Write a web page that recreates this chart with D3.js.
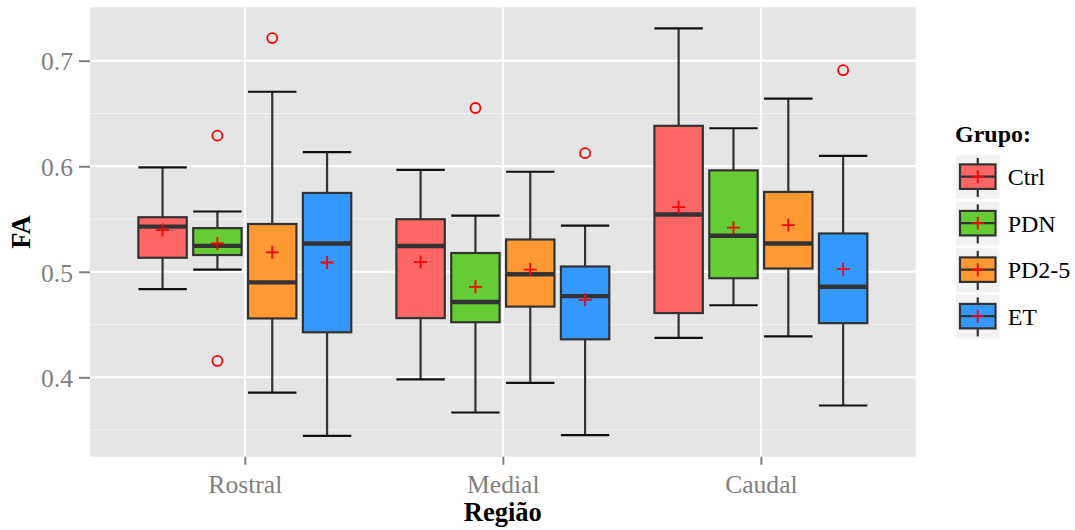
<!DOCTYPE html>
<html>
<head>
<meta charset="utf-8">
<script src="https://cdn.jsdelivr.net/npm/d3@7"></script>
<style>
  html, body { margin: 0; padding: 0; background: #fff; }
  text { font-family: "Liberation Serif", "Times New Roman", serif; }
</style>
</head>
<body>
<svg id="chart" width="1075" height="530"></svg>
<script>
// ---- data ----
const regions = ["Rostral", "Medial", "Caudal"];
const groups = ["Ctrl", "PDN", "PD2-5", "ET"];
const groupColors = ["#FF6666", "#66CC33", "#FF9933", "#3399FF"];
const yTicks = [0.4, 0.5, 0.6, 0.7];
const yMinorTicks = [0.35, 0.45, 0.55, 0.65];

// rows = regions, columns = groups
const whiskerLow = [
  [0.4836, 0.5021, 0.3855, 0.3446],
  [0.3980, 0.3667, 0.3947, 0.3452],
  [0.4373, 0.4683, 0.4389, 0.3733]
];
const q1 = [
  [0.5133, 0.5159, 0.4558, 0.4427],
  [0.4561, 0.4522, 0.4670, 0.4360],
  [0.4609, 0.4939, 0.5031, 0.4513]
];
const median = [
  [0.5428, 0.5246, 0.4900, 0.5268],
  [0.5245, 0.4714, 0.4977, 0.4769],
  [0.5543, 0.5341, 0.5268, 0.4858]
];
const q3 = [
  [0.5517, 0.5414, 0.5453, 0.5747],
  [0.5498, 0.5178, 0.5306, 0.5050],
  [0.6383, 0.5961, 0.5757, 0.5363]
];
const whiskerHigh = [
  [0.5990, 0.5571, 0.6706, 0.6133],
  [0.5965, 0.5533, 0.5948, 0.5437],
  [0.7307, 0.6360, 0.6641, 0.6099]
];
const means = [
  [0.5395, 0.5268, 0.5184, 0.5088],
  [0.5092, 0.4858, 0.5021, 0.4734],
  [0.5613, 0.5418, 0.5443, 0.5025]
];
const outliers = [
  [[], [0.6290, 0.4155], [0.7214], []],
  [[], [0.6552], [], [0.6124]],
  [[], [], [], [0.6910]]
];

// ---- layout ----
const svg = d3.select("#chart");
const panel = { left: 90, right: 915.7, top: 7.3, bottom: 456.7 };

const x = d3.scalePoint().domain(regions).range([panel.left, panel.right]).padding(0.6);
const step = x.step();
const dodge = 0.85 * step;
const gx = d3.scaleBand().domain(groups).range([-dodge / 2, dodge / 2])
  .paddingInner(0.1176).paddingOuter(0.0588);
const boxW = gx.bandwidth();

const y = d3.scaleLinear().domain([0.3248, 0.7506]).range([panel.bottom, panel.top]);

// build record table
const records = [];
regions.forEach((r, i) => groups.forEach((g, j) => {
  records.push({
    region: r, group: g, color: groupColors[j],
    lo: whiskerLow[i][j], q1: q1[i][j], med: median[i][j], q3: q3[i][j],
    hi: whiskerHigh[i][j], mean: means[i][j], out: outliers[i][j]
  });
}));

// panel background
svg.append("rect")
  .attr("x", panel.left).attr("y", panel.top)
  .attr("width", panel.right - panel.left).attr("height", panel.bottom - panel.top)
  .attr("fill", "#E5E5E5");

// minor grid
svg.append("g").selectAll("line").data(yMinorTicks).join("line")
  .attr("x1", panel.left).attr("x2", panel.right)
  .attr("y1", d => y(d)).attr("y2", d => y(d))
  .attr("stroke", "#F2F2F2").attr("stroke-width", 1);
// major grid
svg.append("g").selectAll("line").data(yTicks).join("line")
  .attr("x1", panel.left).attr("x2", panel.right)
  .attr("y1", d => y(d)).attr("y2", d => y(d))
  .attr("stroke", "#FFFFFF").attr("stroke-width", 2);
svg.append("g").selectAll("line").data(regions).join("line")
  .attr("x1", d => x(d)).attr("x2", d => x(d))
  .attr("y1", panel.top).attr("y2", panel.bottom)
  .attr("stroke", "#FFFFFF").attr("stroke-width", 2);

// axes
const yAxis = d3.axisLeft(y).tickValues(yTicks).tickSize(11).tickPadding(6).tickFormat(d3.format(".1f"));
const gy = svg.append("g").attr("transform", `translate(${panel.left},0)`).call(yAxis);
gy.select(".domain").remove();
gy.selectAll(".tick line").attr("stroke", "#7F7F7F").attr("stroke-width", 2);
gy.selectAll(".tick text").attr("fill", "#7F7F7F").attr("font-size", "25.6px")
  .attr("font-family", "Liberation Serif").attr("dy", "0.36em");

const xAxis = d3.axisBottom(x).tickSize(8).tickPadding(10);
const gxA = svg.append("g").attr("transform", `translate(0,${panel.bottom})`).call(xAxis);
gxA.select(".domain").remove();
gxA.selectAll(".tick line").attr("stroke", "#7F7F7F").attr("stroke-width", 2);
gxA.selectAll(".tick text").attr("fill", "#7F7F7F").attr("font-size", "25.6px")
  .attr("font-family", "Liberation Serif").attr("dy", "0.71em");

// axis titles
svg.append("text").attr("x", (panel.left + panel.right) / 2).attr("y", 521)
  .attr("text-anchor", "middle").attr("font-weight", "bold").attr("font-size", "26.5px")
  .text("Região");
svg.append("text").attr("transform", `translate(30,${(panel.top + panel.bottom) / 2}) rotate(-90)`)
  .attr("text-anchor", "middle").attr("font-weight", "bold").attr("font-size", "26.5px")
  .text("FA");

// boxes
const bx = d => x(d.region) + gx(d.group);
const cx = d => bx(d) + boxW / 2;
const boxes = svg.append("g").selectAll("g").data(records).join("g");

boxes.append("line") // whisker
  .attr("x1", cx).attr("x2", cx)
  .attr("y1", d => y(d.lo)).attr("y2", d => y(d.hi))
  .attr("stroke", "#333333").attr("stroke-width", 2.2);
boxes.append("line").attr("x1", bx).attr("x2", d => bx(d) + boxW)
  .attr("y1", d => y(d.hi)).attr("y2", d => y(d.hi))
  .attr("stroke", "#111111").attr("stroke-width", 2.2);
boxes.append("line").attr("x1", bx).attr("x2", d => bx(d) + boxW)
  .attr("y1", d => y(d.lo)).attr("y2", d => y(d.lo))
  .attr("stroke", "#111111").attr("stroke-width", 2.2);
boxes.append("rect")
  .attr("x", bx).attr("width", boxW)
  .attr("y", d => y(d.q3)).attr("height", d => y(d.q1) - y(d.q3))
  .attr("fill", d => d.color).attr("stroke", "#333333").attr("stroke-width", 2.2);
boxes.append("line").attr("x1", bx).attr("x2", d => bx(d) + boxW)
  .attr("y1", d => y(d.med)).attr("y2", d => y(d.med))
  .attr("stroke", "#333333").attr("stroke-width", 4.4);

// means
const arm = 6.5;
boxes.append("path")
  .attr("d", d => `M${cx(d) - arm},${y(d.mean)}H${cx(d) + arm}M${cx(d)},${y(d.mean) - arm}V${y(d.mean) + arm}`)
  .attr("stroke", "#FF0000").attr("stroke-width", 1.8).attr("fill", "none");

// outliers
boxes.each(function (d) {
  d3.select(this).selectAll("circle").data(d.out).join("circle")
    .attr("cx", cx(d)).attr("cy", v => y(v)).attr("r", 5)
    .attr("fill", "none").attr("stroke", "#FF0000").attr("stroke-width", 1.8);
});

// legend
const leg = svg.append("g");
leg.append("text").attr("x", 955).attr("y", 142).attr("font-weight", "bold")
  .attr("font-size", "24px").text("Grupo:");
const keyTop = 155.4, keyStep = 46.5, keySize = 43.5;
const items = leg.selectAll("g.item").data(groups).join("g").attr("class", "item")
  .attr("transform", (d, i) => `translate(956,${keyTop + i * keyStep})`);
items.append("rect").attr("width", keySize).attr("height", keySize).attr("fill", "#F2F2F2");
const kc = keySize / 2;
items.append("line").attr("x1", kc).attr("x2", kc).attr("y1", 2.5).attr("y2", keySize - 2)
  .attr("stroke", "#333333").attr("stroke-width", 2.2);
items.append("rect").attr("x", 4).attr("width", keySize - 8).attr("y", 9).attr("height", 24.5)
  .attr("fill", (d, i) => groupColors[i]).attr("stroke", "#333333").attr("stroke-width", 2.2);
items.append("line").attr("x1", 4).attr("x2", keySize - 4).attr("y1", 21.3).attr("y2", 21.3)
  .attr("stroke", "#333333").attr("stroke-width", 2.2);
items.append("path").attr("d", `M${kc - arm},21.3H${kc + arm}M${kc},${21.3 - arm}V${21.3 + arm}`)
  .attr("stroke", "#FF0000").attr("stroke-width", 1.8).attr("fill", "none");
items.append("text").attr("x", 51.7).attr("y", 30).attr("font-size", "24px").text(d => d);
</script>
</body>
</html>
